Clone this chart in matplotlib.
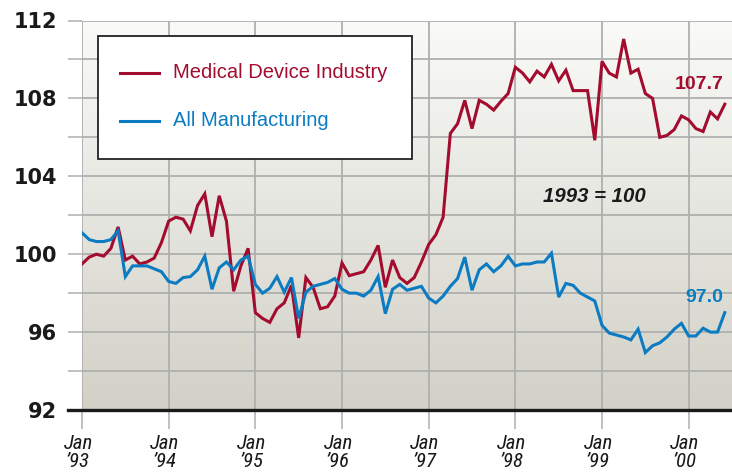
import numpy as np
import matplotlib.pyplot as plt
import matplotlib.transforms as mtransforms
from matplotlib.patches import Rectangle
from matplotlib.lines import Line2D

# monthly index, Jan 1993 = month 0, through mid 2000
series_names = ['Medical Device Industry', 'All Manufacturing']
year_labels = ['Jan\n\u201993', 'Jan\n\u201994', 'Jan\n\u201995', 'Jan\n\u201996',
               'Jan\n\u201997', 'Jan\n\u201998', 'Jan\n\u201999', 'Jan\n\u201900']

medical = [99.5, 99.85, 100.0, 99.9, 100.3, 101.4, 99.7, 99.9, 99.5, 99.6, 99.8, 100.6,
           101.7, 101.9, 101.8, 101.2, 102.5, 103.1, 100.9, 103.0, 101.7, 98.1, 99.4, 100.3,
           97.0, 96.7, 96.5, 97.2, 97.5, 98.4, 95.7, 98.8, 98.3, 97.2, 97.3, 97.85,
           99.55, 98.9, 99.0, 99.1, 99.7, 100.45, 98.3, 99.7, 98.8, 98.5, 98.8, 99.6,
           100.5, 101.0, 101.9, 106.2, 106.7, 107.9, 106.45, 107.9, 107.7, 107.4, 107.85, 108.25,
           109.6, 109.3, 108.85, 109.4, 109.1, 109.75, 108.9, 109.45, 108.4, 108.4, 108.4, 105.85,
           109.9, 109.3, 109.1, 111.05, 109.3, 109.5, 108.25, 108.0, 106.0, 106.1, 106.4, 107.1,
           106.9, 106.45, 106.3, 107.3, 106.95, 107.7]

manufacturing = [101.1, 100.75, 100.65, 100.65, 100.75, 101.2, 98.85, 99.4, 99.4, 99.4, 99.25, 99.1,
                 98.6, 98.5, 98.8, 98.85, 99.2, 99.9, 98.2, 99.3, 99.6, 99.2, 99.7, 99.9,
                 98.45, 98.0, 98.25, 98.85, 98.05, 98.8, 96.7, 98.05, 98.35, 98.45, 98.55, 98.75,
                 98.2, 98.0, 98.0, 97.85, 98.15, 98.85, 96.95, 98.2, 98.45, 98.15, 98.25, 98.35,
                 97.75, 97.5, 97.85, 98.35, 98.75, 99.85, 98.15, 99.2, 99.5, 99.1, 99.4, 99.9,
                 99.4, 99.5, 99.5, 99.6, 99.6, 100.05, 97.8, 98.5, 98.4, 98.0, 97.8, 97.6,
                 96.35, 95.95, 95.85, 95.75, 95.6, 96.15, 94.95, 95.3, 95.45, 95.75, 96.15, 96.45,
                 95.8, 95.8, 96.2, 96.0, 96.0, 97.0]

red = '#a30c2e'
blue = '#0b7bc2'
grid_col = '#afafaf'

months = np.arange(len(medical))

fig = plt.figure(figsize=(7.32, 4.74), dpi=100)
ax = fig.add_axes([82 / 732, 64 / 474, 650 / 732, 389.5 / 474])

# grey-to-white vertical gradient behind the plot
grad = np.linspace(0, 1, 256).reshape(-1, 1)
top = np.array([250, 250, 248]) / 255
bottom = np.array([209, 209, 199]) / 255
img = bottom + (top - bottom) * grad
ax.imshow(img[::-1].reshape(256, 1, 3), extent=[0, 1, 0, 1], transform=ax.transAxes,
          aspect='auto', zorder=0)

ax.plot(months, medical, color=red, lw=2.2, zorder=3, solid_joinstyle='miter')
ax.plot(months, manufacturing, color=blue, lw=2.2, zorder=3, solid_joinstyle='miter')

ax.set_xlim(0, 90)
ax.set_ylim(92, 112)

ax.set_yticks(np.arange(92, 113, 4))
ax.set_yticks(np.arange(94, 112, 4), minor=True)
ax.set_xticks(np.arange(0, 90, 12))
ax.set_xticklabels(year_labels)

ax.grid(True, which='both', color=grid_col, lw=1.3)
ax.set_axisbelow(True)
for s in ax.spines.values():
    s.set_visible(False)

ax.tick_params(axis='y', which='both', length=10, width=1.1, color=grid_col, pad=8)
ax.tick_params(axis='x', length=13.5, width=1.1, color=grid_col, pad=4)
for lab in ax.get_yticklabels():
    lab.set_fontweight('bold')
    lab.set_fontsize(15)
    lab.set_color('#1a1a1a')
shift = mtransforms.ScaledTranslation(-4 / 100, 0, fig.dpi_scale_trans)
for lab in ax.get_xticklabels():
    lab.set_family(['Liberation Sans Narrow', 'DejaVu Sans Condensed', 'Roboto Condensed', 'DejaVu Sans'])
    lab.set_style('italic')
    lab.set_fontsize(15)
    lab.set_linespacing(0.88)
    lab.set_color('#1a1a1a')
    lab.set_transform(lab.get_transform() + shift)

# heavy baseline at 92
ax.axhline(92, xmin=-14 / 650, xmax=1, color='#1a1a1a', lw=2.4, clip_on=False, zorder=4)

# end labels
ax.annotate('%.1f' % medical[-1], (months[-1], medical[-1]), xytext=(-1.0, 14.5),
            textcoords='offset points', ha='right', va='center', color=red,
            fontsize=14, fontweight='bold', family='Liberation Sans')
ax.annotate('%.1f' % manufacturing[-1], (months[-1], manufacturing[-1]), xytext=(-1.0, 11),
            textcoords='offset points', ha='right', va='center', color=blue,
            fontsize=14, fontweight='bold', family='Liberation Sans')
ax.text(63.8, 102.95, '1993 = 100', ha='left', va='center', fontsize=14.7,
        fontweight='bold', style='italic', family='Liberation Sans', color='#1a1a1a')

# legend box drawn by hand
fig.patches.append(Rectangle((98 / 732, 1 - 159 / 474), 314 / 732, 123 / 474,
                             transform=fig.transFigure, facecolor='white',
                             edgecolor='#222222', lw=1.3, zorder=5))
for name, col, ypx in zip(series_names, [red, blue], [73, 121]):
    y = 1 - ypx / 474
    fig.lines.append(Line2D([120 / 732, 159 / 732], [y, y], transform=fig.transFigure,
                            color=col, lw=2.2, zorder=6))
    fig.text(173 / 732, y, name, color=col, fontsize=14.5, va='center', ha='left',
             family='Liberation Sans', zorder=6)

fig.savefig('out.png', dpi=100)
